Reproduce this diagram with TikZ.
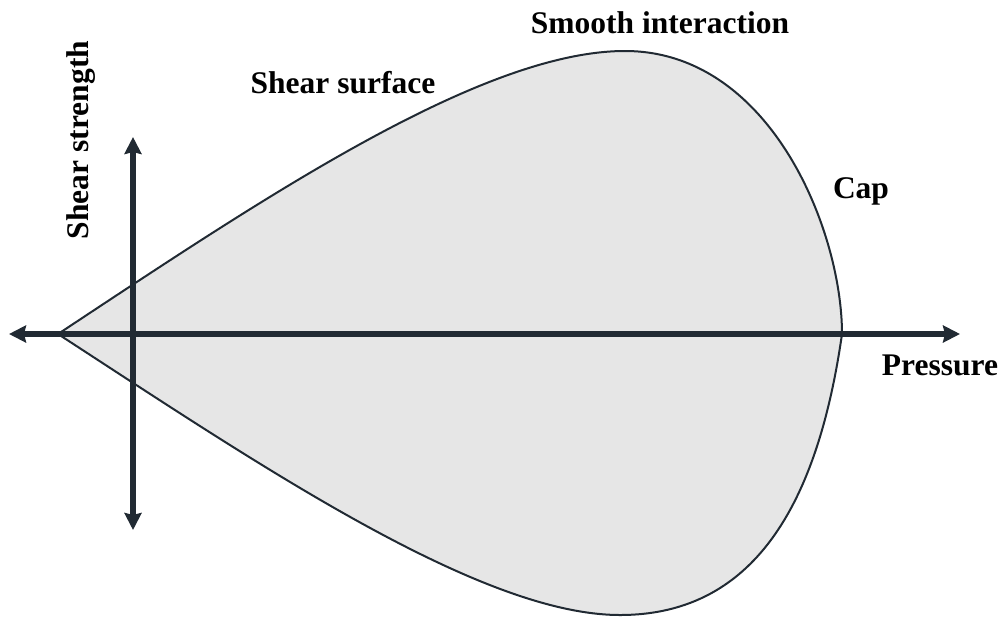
\documentclass[tikz,border=0pt]{standalone}
\usepackage{fontspec}
\setmainfont{Liberation Serif}
\usetikzlibrary{arrows.meta}
\definecolor{axis}{HTML}{212A33}
\definecolor{region}{HTML}{E6E6E6}
\tikzset{
  axisline/.style={draw=axis, line width=5.4pt, -{Stealth[length=17pt,width=17pt,inset=2pt]}},
  boundary/.style={draw=axis, line width=2pt, fill=region, line join=round},
  lbl/.style={font=\fontsize{31.5}{37}\selectfont\bfseries, text=black, inner sep=0pt, anchor=base}
}
\begin{document}
\begin{tikzpicture}[x=1pt, y=-1pt]
\useasboundingbox (0,0) rectangle (1006,619);
% region
\path[boundary] (58,334) .. controls (258,202) and (480,51) .. (625,51)
  .. controls (770,51) and (842,230) .. (842,334)
  .. controls (819,494) and (760,615) .. (620,615)
  .. controls (480,615) and (258,464) .. (58,334) -- cycle;
% axes
\coordinate (origin) at (133,334);
\coordinate (xleft) at (9,334);
\coordinate (xright) at (960,334);
\coordinate (ytop) at (133,137);
\coordinate (ybot) at (133,530);
\draw[axisline] (origin) -- (xleft);
\draw[axisline] (origin) -- (xright);
\draw[axisline] (origin) -- (ytop);
\draw[axisline] (origin) -- (ybot);
% labels
\node[lbl] (smooth) at (660,33) {Smooth interaction};
\node[lbl] (shear) at (343,93) {Shear surface};
\node[lbl] (cap) at (861,198) {Cap};
\node[lbl] (pressure) at (940,375) {Pressure};
\node[lbl, rotate=90] (strength) at (88,140) {Shear strength};
\end{tikzpicture}
\end{document}
